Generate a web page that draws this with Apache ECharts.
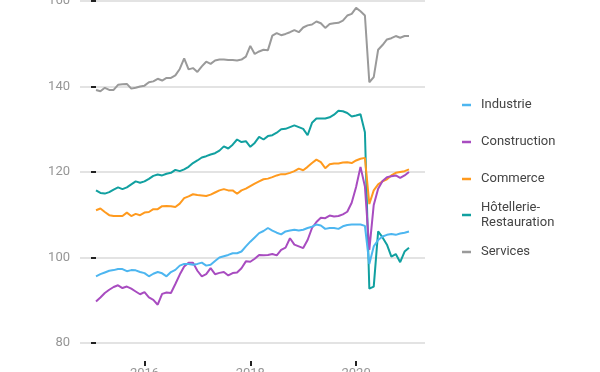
<!DOCTYPE html>
<html><head><meta charset="utf-8">
<script src="https://cdn.jsdelivr.net/npm/echarts@6/dist/echarts.min.js"></script>
<style>html,body{margin:0;padding:0;background:#fff}#c{width:600px;height:372px}</style>
</head><body><div id="c"></div>
<script>
// Monthly data, Feb 2015 - Jan 2021
const months = [
 '2015-02','2015-03','2015-04','2015-05','2015-06','2015-07','2015-08','2015-09','2015-10','2015-11','2015-12',
 '2016-01','2016-02','2016-03','2016-04','2016-05','2016-06','2016-07','2016-08','2016-09','2016-10','2016-11','2016-12',
 '2017-01','2017-02','2017-03','2017-04','2017-05','2017-06','2017-07','2017-08','2017-09','2017-10','2017-11','2017-12',
 '2018-01','2018-02','2018-03','2018-04','2018-05','2018-06','2018-07','2018-08','2018-09','2018-10','2018-11','2018-12',
 '2019-01','2019-02','2019-03','2019-04','2019-05','2019-06','2019-07','2019-08','2019-09','2019-10','2019-11','2019-12',
 '2020-01','2020-02','2020-03','2020-04','2020-05','2020-06','2020-07','2020-08','2020-09','2020-10','2020-11','2020-12',
 '2021-01'];
const tickMonths = ['2016-01','2018-01','2020-01'];
const tickLabels = ['2016','2018','2020'];
const seriesNames = ['Industrie','Construction','Commerce','Hôtellerie-Restauration','Services'];
const legendLabels = ['Industrie','Construction','Commerce','Hôtellerie-\nRestauration','Services'];

const industrie = [95.6,96.1,96.5,96.9,97.05,97.3,97.3,96.8,97.05,97.0,96.6,96.35,95.6,96.2,96.6,96.3,95.6,96.6,97.1,98.1,98.5,98.5,98.3,98.5,98.8,98.1,98.3,99.2,100.0,100.3,100.6,101.0,101.0,101.4,102.6,103.7,
 104.7,105.7,106.2,106.9,106.3,105.8,105.4,106.1,106.3,106.5,106.3,106.5,106.9,107.2,107.7,107.5,106.7,106.9,106.9,106.7,107.3,107.6,107.7,107.7,107.7,107.4,98.5,102.6,104.1,104.9,105.3,105.5,105.3,105.6,105.8,106.1];
const construction = [89.7,90.65,91.7,92.45,93.1,93.5,92.85,93.2,92.7,92.05,91.4,91.9,90.65,90.1,88.95,91.5,91.8,91.7,93.8,96.0,97.9,98.8,98.8,96.9,95.6,96.1,97.5,96.1,96.4,96.6,95.8,96.35,96.5,97.5,99.1,99.0,
 99.7,100.6,100.5,100.6,100.8,100.5,101.8,102.3,104.5,103.0,102.6,102.2,104.1,106.9,108.3,109.3,109.2,109.8,109.6,109.7,110.1,110.7,112.8,116.5,121.2,116.6,101.8,112.3,116.1,117.9,118.8,119.0,119.2,118.6,119.2,120.0];
const commerce = [111.05,111.45,110.65,109.9,109.7,109.7,109.7,110.5,109.7,110.2,109.9,110.5,110.65,111.3,111.3,112.0,112.05,112.0,111.8,112.6,113.9,114.3,114.8,114.6,114.5,114.4,114.7,115.2,115.7,116.0,115.7,115.7,114.9,115.7,116.1,116.7,
 117.3,117.8,118.3,118.45,118.8,119.2,119.5,119.5,119.8,120.2,120.8,120.4,121.2,122.1,122.9,122.3,120.9,121.8,122.0,122.0,122.2,122.3,122.1,122.7,123.1,123.3,112.5,115.7,117.1,117.8,118.3,119.2,119.8,120.0,120.2,120.6];
const hotellerie = [115.7,115.1,114.95,115.3,115.9,116.4,116.0,116.4,117.1,117.8,117.5,117.8,118.4,119.1,119.4,119.2,119.6,119.8,120.5,120.2,120.6,121.2,122.1,122.7,123.4,123.7,124.1,124.4,125.0,126.0,125.5,126.4,127.6,127.0,127.2,125.9,
 126.8,128.2,127.6,128.4,128.6,129.2,130.0,130.1,130.5,130.9,130.5,130.1,128.6,131.5,132.5,132.5,132.5,132.8,133.4,134.3,134.2,133.8,133.0,133.2,133.5,129.3,92.7,93.2,106.1,104.7,103.0,100.2,100.8,98.9,101.4,102.3];
const services = [139.2,138.9,139.7,139.2,139.2,140.4,140.5,140.6,139.5,139.7,140.0,140.2,141.0,141.2,141.8,141.4,142.0,142.0,142.6,144.1,146.6,144.0,144.3,143.4,144.7,145.8,145.3,146.1,146.3,146.3,146.2,146.2,146.1,146.3,147.0,149.5,
 147.6,148.2,148.6,148.5,151.9,152.5,152.0,152.3,152.7,153.2,152.7,153.8,154.3,154.5,155.2,154.8,153.7,154.6,154.8,154.9,155.4,156.6,157.0,158.4,157.6,156.6,141.0,142.2,148.6,149.7,151.0,151.3,151.8,151.4,151.8,151.8];

const values = [industrie, construction, commerce, hotellerie, services];
const colors = ['#4db6f0','#a84cc0','#ff9a1e','#11a0a0','#9a9a9a'];
const legendCenters = [105, 142, 179, 215, 252];

const chart = echarts.init(document.getElementById('c'), null, {renderer:'canvas'});
const tickIdx = tickMonths.map(m => months.indexOf(m));

const series = seriesNames.map((n, k) => ({
  name: n, type: 'line', symbol: 'none', smooth: false,
  data: values[k].map((v, i) => [i, v]),
  lineStyle: {width: 2, color: colors[k]}, itemStyle: {color: colors[k]},
  z: 10 - k
}));

const legends = seriesNames.map((n, k) => ({
  orient: 'vertical', left: 462,
  top: legendCenters[k] - (k === 3 ? 15 : 7.5),
  data: [n], icon: 'rect', itemWidth: 9, itemHeight: 2.5,
  padding: 0, selectedMode: false,
  formatter: () => legendLabels[k],
  textStyle: {fontFamily: 'Roboto', fontSize: 13, color: '#444', lineHeight: 15, padding: [0,0,0,5]}
}));

chart.setOption({
  animation: false,
  color: colors,
  legend: legends,
  grid: {left: 80, right: 175, top: 1, bottom: 29, containLabel: false, outerBoundsMode: 'none'},
  xAxis: {
    type: 'value', min: -3.63, max: 74.63, offset: 18,
    axisLine: {show: false},
    splitLine: {show: false},
    axisTick: {show: true, length: 5, customValues: tickIdx, lineStyle: {color: '#222', width: 2}},
    axisLabel: {customValues: tickIdx, margin: 6, fontFamily: 'Roboto', fontSize: 13, color: '#969696',
      formatter: v => tickLabels[tickIdx.indexOf(Math.round(v))] || ''}
  },
  yAxis: {
    type: 'value', min: 80, max: 160, interval: 20,
    axisLine: {show: false},
    axisTick: {show: true, length: 5, lineStyle: {color: '#222', width: 2}},
    axisLabel: {margin: 10, fontFamily: 'Roboto', fontSize: 13, color: '#969696'},
    splitLine: {show: true, lineStyle: {color: '#dadada', width: 1.5}}
  },
  series: series
});
</script></body></html>
